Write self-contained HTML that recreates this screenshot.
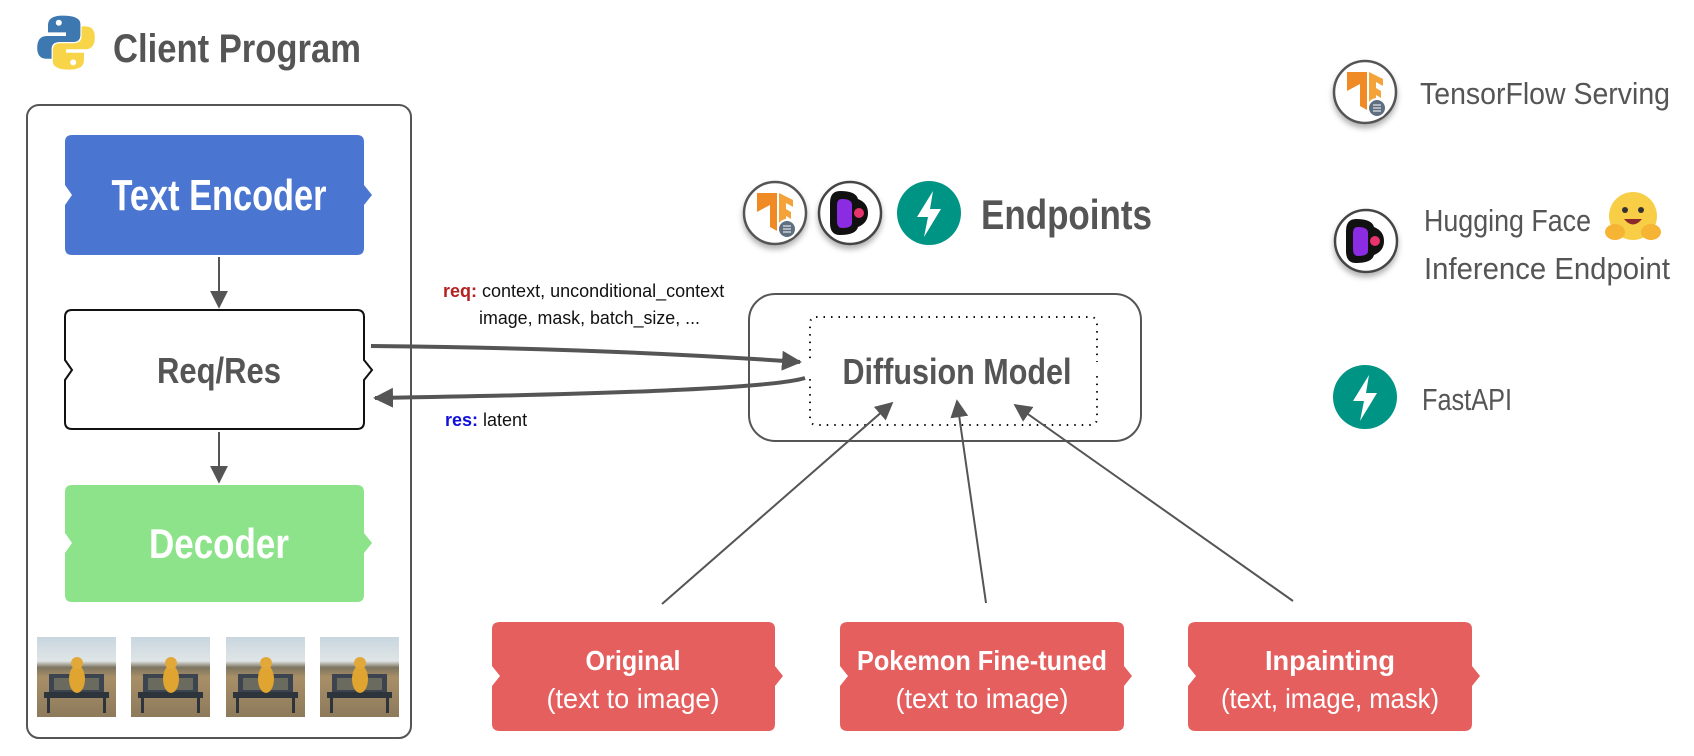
<!DOCTYPE html>
<html><head><meta charset="utf-8"><style>html,body{margin:0;padding:0;background:#fff}svg{display:block}</style></head>
<body>
<svg width="1694" height="756" viewBox="0 0 1694 756" xmlns="http://www.w3.org/2000/svg" font-family="'Liberation Sans', sans-serif">
<defs>
 <linearGradient id="sky" x1="0" y1="0" x2="0" y2="1"><stop offset="0" stop-color="#c9d6df"/><stop offset="0.3" stop-color="#dfe5e6"/><stop offset="0.38" stop-color="#7d7460"/><stop offset="0.5" stop-color="#a88f67"/><stop offset="1" stop-color="#8d7a5c"/></linearGradient>
 <g id="thumb">
  <rect x="0" y="0" width="79" height="80" fill="url(#sky)"/>
  <rect x="12" y="37" width="55" height="20" fill="#3c4450"/>
  <rect x="17" y="41" width="45" height="12" fill="#6a6a5e"/>
  <rect x="7" y="55" width="65" height="6" fill="#2e343c"/>
  <rect x="10" y="60" width="3" height="16" fill="#2e343c"/>
  <rect x="66" y="60" width="3" height="16" fill="#2e343c"/>
  <ellipse cx="40" cy="42" rx="8" ry="14" fill="#e0a431"/>
  <circle cx="40" cy="26" r="6" fill="#e3a83a"/>
 </g>
 <marker id="ah" viewBox="0 0 10 10" refX="9" refY="5" markerWidth="5" markerHeight="5" orient="auto"><path d="M0,0 L10,5 L0,10 z" fill="#555"/></marker>
 <marker id="ah2" viewBox="0 0 10 10" refX="9" refY="5" markerWidth="9" markerHeight="9" orient="auto"><path d="M0,0 L10,5 L0,10 z" fill="#555"/></marker>
 <filter id="sh" x="-30%" y="-30%" width="160%" height="170%"><feDropShadow dx="0" dy="4" stdDeviation="3" flood-color="#000" flood-opacity="0.3"/></filter>
 <g id="tf">
  <circle r="31" fill="#fff" stroke="#555" stroke-width="2.5" filter="url(#sh)"/>
  <path d="M-18,-20 L2,-20 L2,18 L-5,14 L-5,-8 L-18,-1 z" fill="#f08a24"/>
  <path d="M4,-20 L18,-13 L18,-6 L11,-10 L11,-4 L16,-1 L16,6 L11,3 L11,14 L4,18 z" fill="#f4a23a"/>
  <circle cx="12" cy="16" r="9" fill="#5f6f80" stroke="#fff" stroke-width="2"/>
  <path d="M8,13 h8 M8,16 h8 M8,19 h8" stroke="#fff" stroke-width="1"/>
 </g>
 <g id="hf">
  <circle r="31" fill="#fff" stroke="#444" stroke-width="2.5" filter="url(#sh)"/>
  <path d="M-10,-22 Q6,-22 8,-14 Q18,-10 18,0 Q18,10 8,14 Q6,22 -10,22 Q-20,22 -20,10 L-20,-10 Q-20,-22 -10,-22 z" fill="#111"/>
  <path d="M-8,-14 Q2,-14 2,-8 L2,10 Q2,15 -8,15 Q-13,15 -13,8 L-13,-8 Q-13,-14 -8,-14 z" fill="#8b2be2"/>
  <circle cx="9" cy="0" r="5" fill="#e8336b"/>
 </g>
 <g id="fa">
  <circle r="32" fill="#009485"/>
  <path d="M4,-22 L-12,4 L-1,4 L-5,24 L12,-4 L1,-4 z" fill="#fff"/>
 </g>
</defs>

<!-- Title -->
<g transform="translate(66,42) scale(1.2)">
 <path d="M-3,-22 Q-15,-22 -15,-14 L-15,-8 L0,-8 L0,-5 L-16,-5 Q-24,-5 -24,5 Q-24,14 -16,14 L-12,14 L-12,6 Q-12,0 -5,0 L6,0 Q12,0 12,-6 L12,-15 Q12,-22 -3,-22 z" fill="#3e78b0"/>
 <path d="M3,23 Q15,23 15,15 L15,9 L0,9 L0,6 L16,6 Q24,6 24,-4 Q24,-13 16,-13 L13,-13 L13,-5 Q13,1 6,1 L-5,1 Q-11,1 -11,7 L-11,16 Q-11,23 3,23 z" fill="#f7d448"/>
 <circle cx="-6" cy="-16" r="2.5" fill="#fff"/><circle cx="6" cy="17" r="2.5" fill="#fff"/>
</g>
<text x="113" y="62" font-size="40" font-weight="bold" fill="#555" textLength="248" lengthAdjust="spacingAndGlyphs">Client Program</text>

<!-- Client box -->
<rect x="27" y="105" width="384" height="633" rx="12" fill="#fff" stroke="#555" stroke-width="2"/>

<!-- Text Encoder -->
<path d="M72,135 H357 Q364,135 364,142 V185 L372,195 L364,205 V248 Q364,255 357,255 H72 Q65,255 65,248 V205 L72,195 L65,185 V142 Q65,135 72,135 z" fill="#4a76d1"/>
<text x="219" y="210" text-anchor="middle" font-size="44" font-weight="bold" fill="#fff" textLength="215" lengthAdjust="spacingAndGlyphs">Text Encoder</text>
<line x1="219" y1="257" x2="219" y2="307" stroke="#555" stroke-width="2" marker-end="url(#ah2)"/>

<!-- Req/Res -->
<path d="M72,310 H357 Q364,310 364,317 V360 L372,370 L364,380 V422 Q364,429 357,429 H72 Q65,429 65,422 V380 L72,370 L65,360 V317 Q65,310 72,310 z" fill="#fff" stroke="#111" stroke-width="2"/>
<text x="219" y="383" text-anchor="middle" font-size="36" font-weight="bold" fill="#555" textLength="124" lengthAdjust="spacingAndGlyphs">Req/Res</text>
<line x1="219" y1="432" x2="219" y2="482" stroke="#555" stroke-width="2" marker-end="url(#ah2)"/>

<!-- Decoder -->
<path d="M72,485 H357 Q364,485 364,492 V533 L372,543 L364,553 V595 Q364,602 357,602 H72 Q65,602 65,595 V553 L72,543 L65,533 V492 Q65,485 72,485 z" fill="#8de38a"/>
<text x="219" y="558" text-anchor="middle" font-size="42" font-weight="bold" fill="#fff" textLength="140" lengthAdjust="spacingAndGlyphs">Decoder</text>

<use href="#thumb" x="37" y="637"/>
<use href="#thumb" x="131" y="637"/>
<use href="#thumb" x="226" y="637"/>
<use href="#thumb" x="320" y="637"/>

<!-- req/res labels -->
<text x="443" y="297" font-size="18" fill="#111"><tspan fill="#b22222" font-weight="bold">req:</tspan> <tspan>context, unconditional_context</tspan></text>
<text x="479" y="324" font-size="18" fill="#111" textLength="221" lengthAdjust="spacingAndGlyphs">image, mask, batch_size, ...</text>
<text x="445" y="426" font-size="18" fill="#111"><tspan fill="#1010dd" font-weight="bold">res:</tspan> latent</text>

<!-- Endpoints -->
<use href="#tf" x="775" y="213"/>
<use href="#hf" x="850" y="213"/>
<use href="#fa" x="929" y="213"/>
<text x="981" y="229" font-size="42" font-weight="bold" fill="#555" textLength="171" lengthAdjust="spacingAndGlyphs">Endpoints</text>

<!-- Diffusion model -->
<rect x="749" y="294" width="392" height="147" rx="26" fill="#fff" stroke="#555" stroke-width="2"/>
<rect x="810" y="317" width="287" height="108" rx="6" fill="none" stroke="#111" stroke-width="2" stroke-dasharray="1.5,6"/>
<rect x="805" y="362" width="10" height="12" fill="#fff"/>
<rect x="1092" y="362" width="10" height="12" fill="#fff"/>
<text x="957" y="384" text-anchor="middle" font-size="36" font-weight="bold" fill="#555" textLength="229" lengthAdjust="spacingAndGlyphs">Diffusion Model</text>

<!-- req/res arrows -->
<path d="M371,346 Q600,348 800,362" fill="none" stroke="#555" stroke-width="4" marker-end="url(#ah)"/>
<path d="M805,378 Q760,392 375,398" fill="none" stroke="#555" stroke-width="4" marker-end="url(#ah)"/>

<!-- model arrows -->
<line x1="662" y1="604" x2="892" y2="403" stroke="#555" stroke-width="2" marker-end="url(#ah2)"/>
<line x1="986" y1="603" x2="957" y2="401" stroke="#555" stroke-width="2" marker-end="url(#ah2)"/>
<line x1="1293" y1="601" x2="1015" y2="405" stroke="#555" stroke-width="2" marker-end="url(#ah2)"/>

<!-- red boxes -->
<g fill="#e55f5f">
 <path d="M500,622 H768 Q775,622 775,629 V666 L783,676 L775,686 V724 Q775,731 768,731 H500 Q492,731 492,724 V686 L500,676 L492,666 V629 Q492,622 500,622 z"/>
 <path d="M848,622 H1116 Q1124,622 1124,629 V666 L1132,676 L1124,686 V724 Q1124,731 1116,731 H848 Q840,731 840,724 V686 L848,676 L840,666 V629 Q840,622 848,622 z"/>
 <path d="M1196,622 H1464 Q1472,622 1472,629 V666 L1480,676 L1472,686 V724 Q1472,731 1464,731 H1196 Q1188,731 1188,724 V686 L1196,676 L1188,666 V629 Q1188,622 1196,622 z"/>
</g>
<g fill="#fff" text-anchor="middle">
 <text x="633" y="670" font-size="28" font-weight="bold" textLength="95" lengthAdjust="spacingAndGlyphs">Original</text>
 <text x="633" y="708" font-size="28" textLength="173" lengthAdjust="spacingAndGlyphs">(text to image)</text>
 <text x="982" y="670" font-size="28" font-weight="bold" textLength="250" lengthAdjust="spacingAndGlyphs">Pokemon Fine-tuned</text>
 <text x="982" y="708" font-size="28" textLength="173" lengthAdjust="spacingAndGlyphs">(text to image)</text>
 <text x="1330" y="670" font-size="28" font-weight="bold" textLength="130" lengthAdjust="spacingAndGlyphs">Inpainting</text>
 <text x="1330" y="708" font-size="28" textLength="218" lengthAdjust="spacingAndGlyphs">(text, image, mask)</text>
</g>

<!-- Legend -->
<use href="#tf" x="1365" y="92"/>
<text x="1420" y="104" font-size="31" fill="#555" textLength="250" lengthAdjust="spacingAndGlyphs">TensorFlow Serving</text>
<use href="#hf" x="1366" y="241"/>
<text x="1424" y="231" font-size="31" fill="#555" textLength="167" lengthAdjust="spacingAndGlyphs">Hugging Face</text>
<text x="1424" y="279" font-size="31" fill="#555" textLength="246" lengthAdjust="spacingAndGlyphs">Inference Endpoint</text>
<g transform="translate(1633,216)">
 <circle r="24" fill="#f7ce46"/>
 <circle cx="-8" cy="-6" r="3" fill="#333"/><circle cx="8" cy="-6" r="3" fill="#333"/>
 <path d="M-9,3 Q0,14 9,3 z" fill="#8b2a2a"/>
 <ellipse cx="-18" cy="16" rx="10" ry="8" fill="#f6b434"/><ellipse cx="18" cy="16" rx="10" ry="8" fill="#f6b434"/>
</g>
<use href="#fa" x="1365" y="397"/>
<text x="1422" y="410" font-size="31" fill="#555" textLength="90" lengthAdjust="spacingAndGlyphs">FastAPI</text>
</svg>
</body></html>
